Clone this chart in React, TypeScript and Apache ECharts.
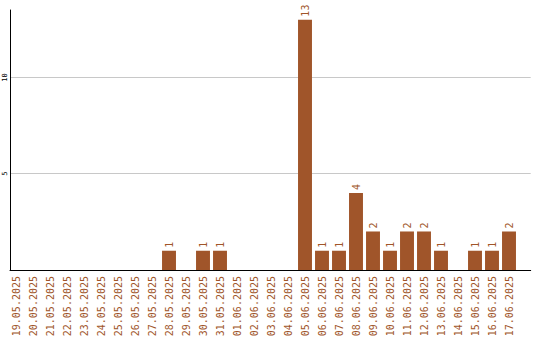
import React, { useEffect, useRef } from "react";
import * as echarts from "echarts";

const categories = [
  "19.05.2025", "20.05.2025", "21.05.2025", "22.05.2025", "23.05.2025",
  "24.05.2025", "25.05.2025", "26.05.2025", "27.05.2025", "28.05.2025",
  "29.05.2025", "30.05.2025", "31.05.2025", "01.06.2025", "02.06.2025",
  "03.06.2025", "04.06.2025", "05.06.2025", "06.06.2025", "07.06.2025",
  "08.06.2025", "09.06.2025", "10.06.2025", "11.06.2025", "12.06.2025",
  "13.06.2025", "14.06.2025", "15.06.2025", "16.06.2025", "17.06.2025",
];
const values = [
  0, 0, 0, 0, 0, 0, 0, 0, 0, 1,
  0, 1, 1, 0, 0, 0, 0, 13, 1, 1,
  4, 2, 1, 2, 2, 1, 0, 1, 1, 2,
];

const COLOR = "#A0552A";
const Y_MAX = 13.5;

export default function App() {
  const ref = useRef<HTMLDivElement>(null);
  useEffect(() => {
    if (!ref.current) return;
    const chart = echarts.init(ref.current, null, { renderer: "svg" });
    chart.setOption({
      animation: false,
      grid: [
        { left: 7.5, width: 510, top: 10, bottom: 70 },
        { left: 10, right: 9.3, top: 10, bottom: 70 },
      ],
      xAxis: [
        {
          type: "category",
          gridIndex: 0,
          data: categories,
          axisLine: { show: false },
          axisTick: { show: false },
          axisLabel: {
            interval: 0,
            rotate: 90,
            color: COLOR,
            fontFamily: "DejaVu Sans Mono",
            fontSize: 10,
            margin: 6,
          },
        },
        {
          type: "value",
          gridIndex: 1,
          min: 0,
          max: 1,
          axisLine: { show: true, lineStyle: { color: "#000", width: 1 } },
          axisTick: { show: false },
          axisLabel: { show: false },
          splitLine: { show: false },
        },
      ],
      yAxis: [
        {
          type: "value",
          gridIndex: 0,
          min: 0,
          max: Y_MAX,
          show: false,
          splitLine: { show: false },
        },
        {
          type: "value",
          gridIndex: 1,
          min: 0,
          max: Y_MAX,
          interval: 5,
          axisLine: { show: true, lineStyle: { color: "#000", width: 1 } },
          axisTick: { show: false },
          splitLine: {
            lineStyle: { color: ["#c8c8c8", "#c8c8c8", "#c8c8c8", "rgba(0,0,0,0)"] },
          },
          axisLabel: {
            rotate: 90,
            color: "#000",
            fontFamily: "DejaVu Sans Mono",
            fontSize: 7,
            margin: 2,
            showMinLabel: false,
            showMaxLabel: false,
          },
        },
      ],
      series: [
        {
          type: "line",
          xAxisIndex: 1,
          yAxisIndex: 1,
          data: [],
          silent: true,
        },
        {
          type: "bar",
          xAxisIndex: 0,
          yAxisIndex: 0,
          z: 3,
          data: values.map((v) => (v === 0 ? null : v)),
          barCategoryGap: "18%",
          itemStyle: { color: COLOR },
          label: {
            show: true,
            position: "top",
            rotate: 90,
            align: "left",
            verticalAlign: "middle",
            distance: 3,
            color: COLOR,
            fontFamily: "DejaVu Sans Mono",
            fontSize: 10,
          },
        },
      ],
    });
    return () => chart.dispose();
  }, []);
  return <div ref={ref} style={{ width: 540, height: 340, position: "absolute", left: 0, top: 0 }} />;
}
